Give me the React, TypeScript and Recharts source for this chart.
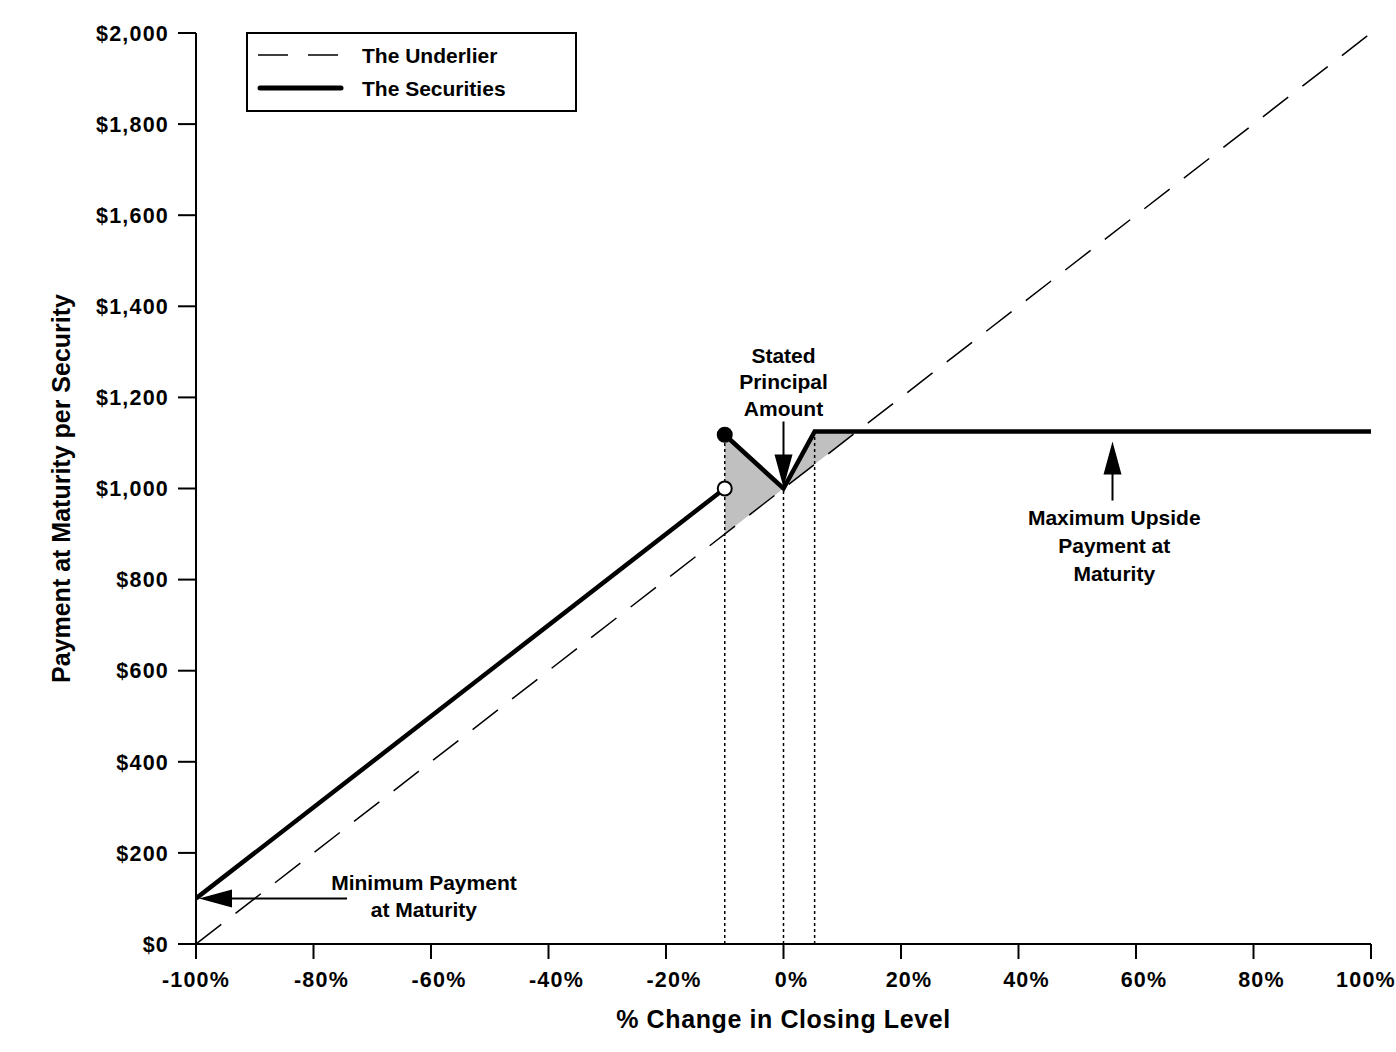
import React from "react";
import { ComposedChart, XAxis, YAxis, Line, Area, Scatter, ReferenceDot, Legend, Label } from "recharts";

const FONT = '"Liberation Sans", Arial, Helvetica, sans-serif';

// axis ticks: % change in closing level / payment at maturity
const changeTicks = [-100, -80, -60, -40, -20, 0, 20, 40, 60, 80, 100];
const paymentTicks = [0, 200, 400, 600, 800, 1000, 1200, 1400, 1600, 1800, 2000];

// the underlier (dashed)
const underlierChange = [-100, 100];
const underlierPayment = [0, 2000];

// the securities, below the buffer
const lowerChange = [-100, -10];
const lowerPayment = [100, 1000];

// the securities, from the buffer up to the cap
const upperChange = [-10, 0, 5.3, 100];
const upperPayment = [1118, 1000, 1125, 1125];

// grey band between the securities and the underlier
const bandChange = [-10, 0, 5.3, 12.5];
const bandLow = [900, 1000, 1053, 1125];
const bandHigh = [1118, 1000, 1125, 1125];

// dotted drop lines
const guideChange = [-10, 0, 5.3];
const guideTop = [1118, 1000, 1125];

// circles at the buffer
const markerChange = [-10, -10];
const markerPayment = [1118, 1000];
const markerFilled = [true, false];

const legendItems = [
  { label: "The Underlier", dashed: true },
  { label: "The Securities", dashed: false },
];

const toRows = (xs: number[], ys: number[]) => xs.map((x, i) => ({ x, y: ys[i] }));

const underlierRows = toRows(underlierChange, underlierPayment);
const lowerRows = toRows(lowerChange, lowerPayment);
const upperRows = toRows(upperChange, upperPayment);
const bandRows = bandChange.map((x, i) => ({ x, range: [bandLow[i], bandHigh[i]] }));
const markerRows = markerChange.map((x, i) => ({ x, y: markerPayment[i], filled: markerFilled[i] }));

const textStyle = { fontFamily: FONT, fontWeight: 700, fill: "#000" } as const;

function XTick({ x, y, payload }: any) {
  const v = payload.value;
  const shift = v === -100 ? 0 : v === 100 ? -5 : 8;
  return (
    <text x={x + shift} y={y} dy="0.71em" textAnchor="middle" fontSize={21.5} letterSpacing={1.2} {...textStyle}>
      {`${v}%`}
    </text>
  );
}

function YTick({ x, y, payload }: any) {
  return (
    <text x={x} y={y} dy="0.36em" textAnchor="end" fontSize={21.5} letterSpacing={1.2} {...textStyle}>
      {`$${payload.value.toLocaleString("en-US")}`}
    </text>
  );
}

function Arrow({ cx, cy, dir, gap, length }: any) {
  const head = 33;
  const half = 9;
  if (dir === "down") {
    const tip = cy - gap;
    return (
      <g>
        <line x1={cx} y1={tip - length} x2={cx} y2={tip - head + 2} stroke="#000" strokeWidth={2} />
        <polygon points={`${cx},${tip} ${cx - half},${tip - head} ${cx + half},${tip - head}`} fill="#000" />
      </g>
    );
  }
  if (dir === "up") {
    const tip = cy + gap;
    return (
      <g>
        <line x1={cx} y1={tip + length} x2={cx} y2={tip + head - 2} stroke="#000" strokeWidth={2} />
        <polygon points={`${cx},${tip} ${cx - half},${tip + head} ${cx + half},${tip + head}`} fill="#000" />
      </g>
    );
  }
  const tip = cx + gap;
  return (
    <g>
      <line x1={tip + length} y1={cy} x2={tip + head - 2} y2={cy} stroke="#000" strokeWidth={2} />
      <polygon points={`${tip},${cy} ${tip + head},${cy - half} ${tip + head},${cy + half}`} fill="#000" />
    </g>
  );
}

function Note({ cx, cy, lines, spacing }: any) {
  return (
    <text textAnchor="middle" fontSize={21} {...textStyle}>
      {lines.map((l: string, i: number) => (
        <tspan key={l} x={cx} y={cy + 7.5 + i * spacing}>
          {l}
        </tspan>
      ))}
    </text>
  );
}

function Marker({ cx, cy, payload }: any) {
  return <circle cx={cx} cy={cy} r={7} fill={payload.filled ? "#000" : "#fff"} stroke="#000" strokeWidth={2} />;
}

function LegendBox() {
  return (
    <svg width={332} height={81} style={{ display: "block" }}>
      <rect x={1} y={1} width={329} height={78} fill="#fff" stroke="#000" strokeWidth={2} />
      {legendItems.map((item, i) => {
        const cy = 23 + i * 33;
        return (
          <g key={item.label}>
            {item.dashed ? (
              <line x1={12} y1={cy} x2={97} y2={cy} stroke="#000" strokeWidth={1.5} strokeDasharray="30 20" />
            ) : (
              <line x1={14} y1={cy} x2={95} y2={cy} stroke="#000" strokeWidth={5} strokeLinecap="round" />
            )}
            <text x={116} y={cy + 8} fontSize={21} {...textStyle}>
              {item.label}
            </text>
          </g>
        );
      })}
    </svg>
  );
}

export default function App() {
  return (
    <div style={{ position: "absolute", left: 0, top: 0, width: 1396, height: 1052, background: "#fff" }}>
      <ComposedChart width={1396} height={1052} margin={{ top: 33, right: 25, bottom: 18, left: 0 }}>
        <XAxis
          type="number"
          dataKey="x"
          domain={[-100, 100]}
          ticks={changeTicks}
          allowDataOverflow
          height={90}
          tickSize={15}
          tickMargin={13}
          tick={<XTick />}
          axisLine={{ stroke: "#000", strokeWidth: 2 }}
          tickLine={{ stroke: "#000", strokeWidth: 2 }}
        >
          <Label
            content={({ viewBox }: any) => (
              <text x={viewBox.x + viewBox.width / 2} y={viewBox.y + 84} textAnchor="middle" fontSize={25} letterSpacing={0.6} {...textStyle}>
                % Change in Closing Level
              </text>
            )}
          />
        </XAxis>
        <YAxis
          type="number"
          domain={[0, 2000]}
          ticks={paymentTicks}
          allowDataOverflow
          width={196}
          tickSize={18}
          tickMargin={9}
          tick={<YTick />}
          axisLine={{ stroke: "#000", strokeWidth: 2 }}
          tickLine={{ stroke: "#000", strokeWidth: 2 }}
        >
          <Label
            content={({ viewBox }: any) => {
              const cx = 70;
              const cy = viewBox.y + viewBox.height / 2;
              return (
                <text x={cx} y={cy} transform={`rotate(-90 ${cx} ${cy})`} textAnchor="middle" fontSize={25} {...textStyle}>
                  Payment at Maturity per Security
                </text>
              );
            }}
          />
        </YAxis>

        <Area
          data={bandRows}
          dataKey="range"
          type="linear"
          stroke="none"
          fill="#c0c0c0"
          fillOpacity={1}
          isAnimationActive={false}
          legendType="none"
        />
        {guideChange.map((x, i) => (
          <Line
            key={`guide-${x}`}
            data={[{ x, y: 0 }, { x, y: guideTop[i] }]}
            dataKey="y"
            stroke="#000"
            strokeWidth={1.5}
            strokeDasharray="3 3"
            dot={false}
            activeDot={false}
            isAnimationActive={false}
            legendType="none"
          />
        ))}
        <Line
          data={underlierRows}
          dataKey="y"
          name="The Underlier"
          stroke="#000"
          strokeWidth={1.5}
          strokeDasharray="32 18"
          dot={false}
          activeDot={false}
          isAnimationActive={false}
        />
        <Line
          data={lowerRows}
          dataKey="y"
          name="The Securities"
          stroke="#000"
          strokeWidth={4.5}
          dot={false}
          activeDot={false}
          isAnimationActive={false}
        />
        <Line
          data={upperRows}
          dataKey="y"
          stroke="#000"
          strokeWidth={4.5}
          dot={false}
          activeDot={false}
          isAnimationActive={false}
          legendType="none"
        />
        <Scatter data={markerRows} dataKey="y" shape={<Marker />} isAnimationActive={false} legendType="none" />

        <ReferenceDot x={0} y={1000} r={0} shape={(p: any) => <Arrow cx={p.cx} cy={p.cy} dir="down" gap={1} length={66} />} />
        <ReferenceDot x={56} y={1125} r={0} shape={(p: any) => <Arrow cx={p.cx} cy={p.cy} dir="up" gap={10} length={59} />} />
        <ReferenceDot x={-100} y={100} r={0} shape={(p: any) => <Arrow cx={p.cx} cy={p.cy} dir="left" gap={3} length={148} />} />

        <ReferenceDot
          x={0}
          y={1292}
          r={0}
          shape={(p: any) => <Note cx={p.cx} cy={p.cy} lines={["Stated", "Principal", "Amount"]} spacing={26.5} />}
        />
        <ReferenceDot
          x={56.3}
          y={936}
          r={0}
          shape={(p: any) => <Note cx={p.cx} cy={p.cy} lines={["Maximum Upside", "Payment at", "Maturity"]} spacing={28} />}
        />
        <ReferenceDot
          x={-61.2}
          y={135}
          r={0}
          shape={(p: any) => <Note cx={p.cx} cy={p.cy} lines={["Minimum Payment", "at Maturity"]} spacing={26.5} />}
        />

        <Legend
          layout="horizontal"
          verticalAlign="middle"
          align="center"
          wrapperStyle={{ position: "absolute", left: 246, top: 32, width: 332, height: 81 }}
          content={() => <LegendBox />}
        />
      </ComposedChart>
    </div>
  );
}
